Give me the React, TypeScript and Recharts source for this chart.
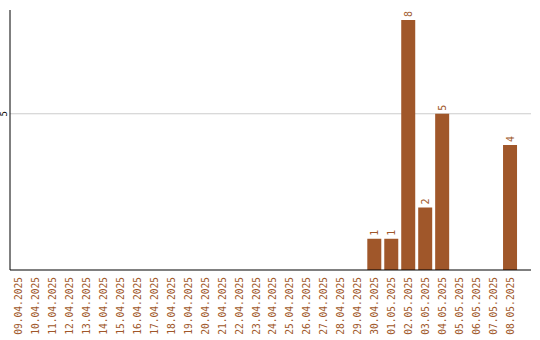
import React from 'react';
import { BarChart, Bar, XAxis, YAxis, CartesianGrid, LabelList } from 'recharts';

const dates = [
  '09.04.2025', '10.04.2025', '11.04.2025', '12.04.2025', '13.04.2025', '14.04.2025',
  '15.04.2025', '16.04.2025', '17.04.2025', '18.04.2025', '19.04.2025', '20.04.2025',
  '21.04.2025', '22.04.2025', '23.04.2025', '24.04.2025', '25.04.2025', '26.04.2025',
  '27.04.2025', '28.04.2025', '29.04.2025', '30.04.2025', '01.05.2025', '02.05.2025',
  '03.05.2025', '04.05.2025', '05.05.2025', '06.05.2025', '07.05.2025', '08.05.2025',
];
const counts = [
  0, 0, 0, 0, 0, 0,
  0, 0, 0, 0, 0, 0,
  0, 0, 0, 0, 0, 0,
  0, 0, 0, 1, 1, 8,
  2, 5, 0, 0, 0, 4,
];
const yTicks = [5];

const BROWN = '#A0572A';
const FONT = '"DejaVu Sans Mono", monospace';

const data = dates.map((d, i) => ({ date: d, count: counts[i] }));

const DateTick = (props: any) => {
  const { x, payload } = props;
  return (
    <text
      x={0}
      y={0}
      transform={`translate(${x + 3.5},277) rotate(-90)`}
      textAnchor="end"
      fill={BROWN}
      fontSize={9.6}
      fontFamily={FONT}
    >
      {payload.value}
    </text>
  );
};

const YTick = (props: any) => {
  const { y, payload } = props;
  return (
    <text
      x={0}
      y={0}
      transform={`translate(7,${y}) rotate(-90)`}
      textAnchor="middle"
      fill="#000"
      fontSize={9}
      fontFamily={FONT}
    >
      {payload.value}
    </text>
  );
};

const ValueLabel = (props: any) => {
  const { x, y, width, value } = props;
  if (!value) return null;
  const cx = x + width / 2;
  return (
    <text
      x={0}
      y={0}
      transform={`translate(${cx + 3.5},${y - 3}) rotate(-90)`}
      textAnchor="start"
      fill={BROWN}
      fontSize={10}
      fontFamily={FONT}
    >
      {value}
    </text>
  );
};

export default function App() {
  return (
    <div style={{ position: 'absolute', left: 0, top: 0, background: '#fff' }}>
      <BarChart
        width={540}
        height={340}
        data={data}
        margin={{ top: 10, right: 9, bottom: 0, left: 0 }}
        barSize={14}
      >
        <CartesianGrid vertical={false} stroke="#cccccc" syncWithTicks />
        <XAxis
          dataKey="date"
          interval={0}
          height={70}
          tickLine={false}
          axisLine={{ stroke: '#000' }}
          padding={{ left: 0, right: 12 }}
          tick={<DateTick />}
        />
        <YAxis
          width={10}
          domain={[0, 8.32]}
          ticks={yTicks}
          tickLine={false}
          axisLine={{ stroke: '#000' }}
          tick={<YTick />}
        />
        <Bar dataKey="count" fill={BROWN} isAnimationActive={false}>
          <LabelList dataKey="count" content={<ValueLabel />} />
        </Bar>
      </BarChart>
    </div>
  );
}
